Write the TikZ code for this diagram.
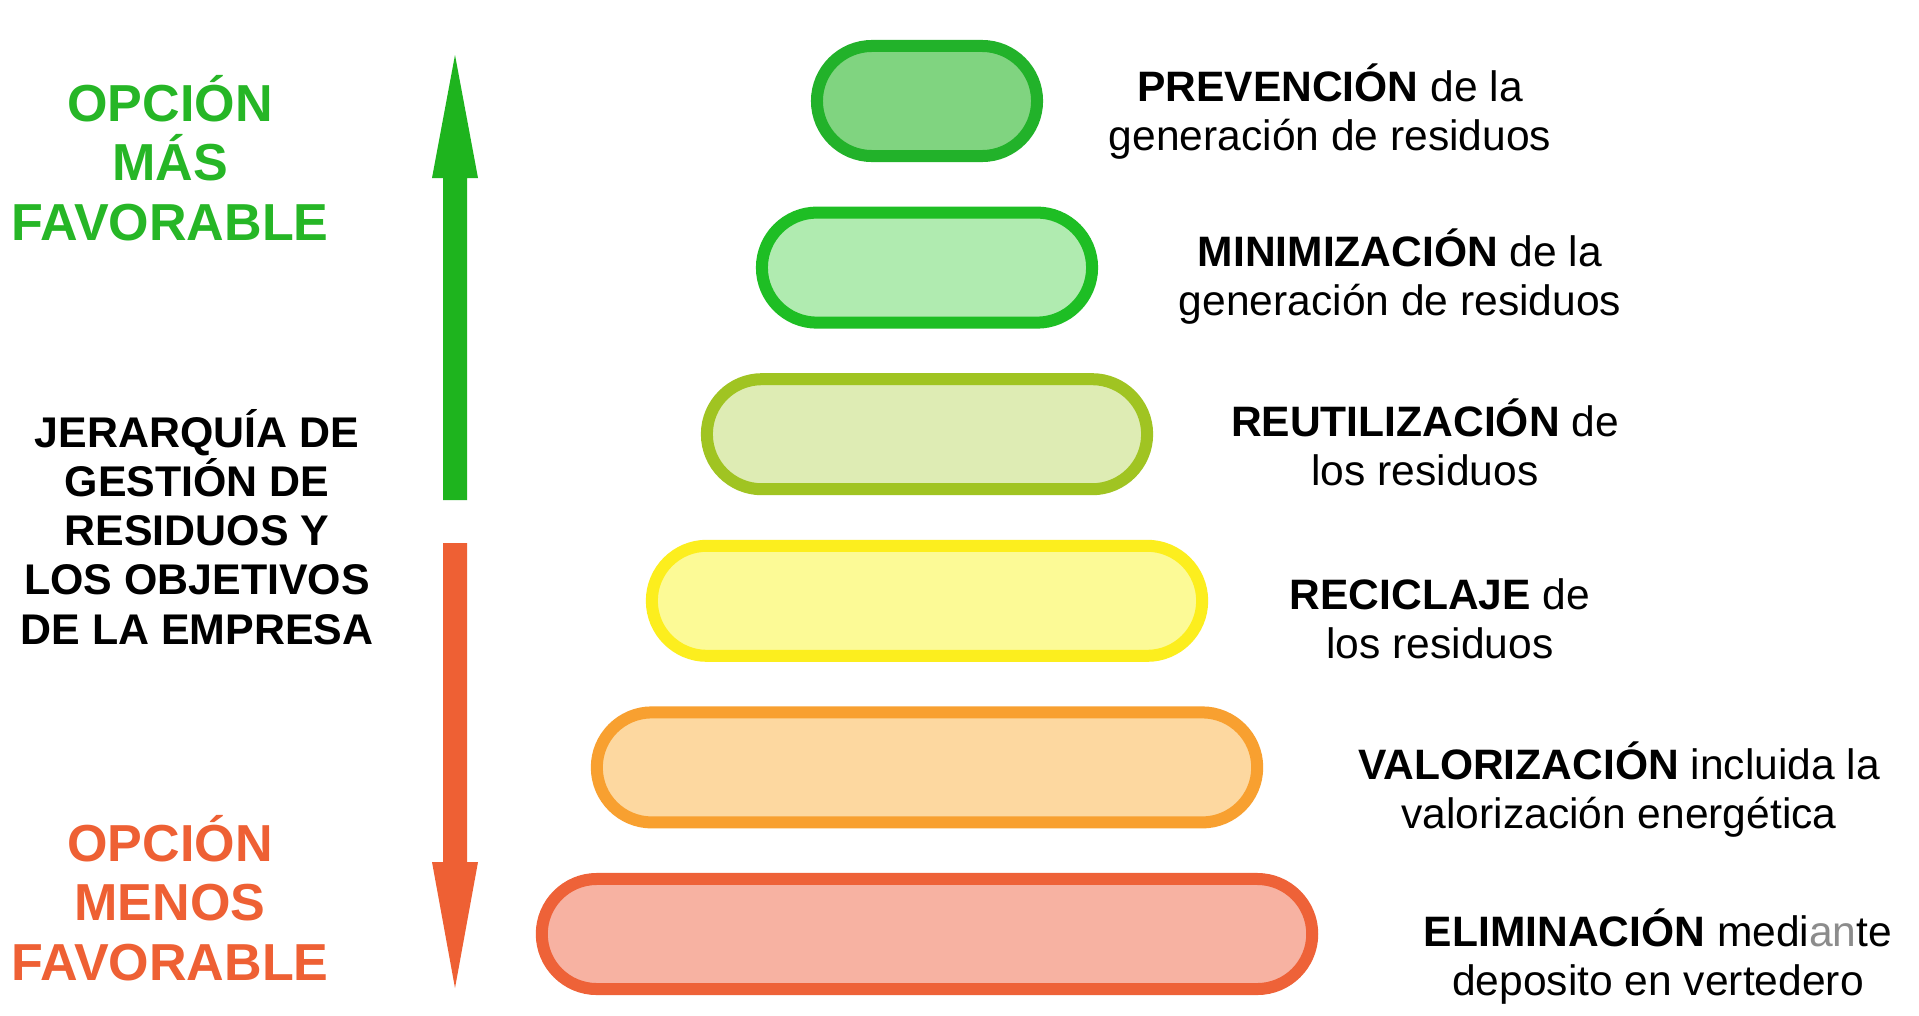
\documentclass[tikz,border=0pt]{standalone}
\usepackage{fontspec}
\setmainfont{Liberation Sans}
\usetikzlibrary{shapes.misc,positioning}

\definecolor{favgreen}{RGB}{38,182,38}
\definecolor{arrowgreen}{RGB}{30,180,30}
\definecolor{lessorange}{RGB}{238,96,52}
\definecolor{lprev}{RGB}{34,178,42}   \definecolor{fprev}{RGB}{128,212,128}
\definecolor{lmini}{RGB}{30,190,36}   \definecolor{fmini}{RGB}{176,235,176}
\definecolor{lreut}{RGB}{160,196,34}  \definecolor{freut}{RGB}{222,236,180}
\definecolor{lreci}{RGB}{252,238,30}  \definecolor{freci}{RGB}{252,250,150}
\definecolor{lvalo}{RGB}{248,160,48}  \definecolor{fvalo}{RGB}{253,216,160}
\definecolor{lelim}{RGB}{238,98,56}   \definecolor{felim}{RGB}{247,178,162}

\tikzset{
  pill/.style={rounded rectangle, line width=0.12cm, minimum height=1.1cm, inner sep=0pt},
  lefttitle/.style={font=\bfseries\fontsize{14.8}{16.9}\selectfont, align=center, anchor=base},
  sidetitle/.style={font=\bfseries\fontsize{12.2}{14}\selectfont, align=center, anchor=base},
  steptext/.style={font=\fontsize{12.1}{13.66}\selectfont, align=center, anchor=base}
}

\begin{document}
\begin{tikzpicture}[x=0.01cm,y=-0.01cm]
    % Canvas
    \fill[white] (0,0) rectangle (1919,1015);
    \useasboundingbox (0,0) rectangle (1919,1015);

    % Left titles (anchor base = last line)
    \node[lefttitle, text=favgreen] (masfav) at (170,240) {OPCIÓN\\MÁS\\FAVORABLE};
    \node[sidetitle] (jerarquia) at (197,644) {JERARQUÍA DE\\GESTIÓN DE\\RESIDUOS Y\\LOS OBJETIVOS\\DE LA EMPRESA};
    \node[lefttitle, text=lessorange] (menosfav) at (170,980) {OPCIÓN\\MENOS\\FAVORABLE};

    % Arrows (tip, head, shaft)
    \coordinate (upto) at (455,55);
    \coordinate (downto) at (455,988);
    \fill[arrowgreen] (upto) -- ++(23,123) -- ++(-11,0) -- ++(0,322) -- ++(-24,0) -- ++(0,-322) -- ++(-11,0) -- cycle;
    \fill[lessorange] (downto) -- ++(23,-126) -- ++(-11,0) -- ++(0,-319) -- ++(-24,0) -- ++(0,319) -- ++(-11,0) -- cycle;

    % Pyramid of pills
    \foreach \name/\w/\y in {prev/2.2/101, mini/3.3/267.6, reut/4.4/434.2, reci/5.5/600.8, valo/6.6/767.4, elim/7.7/934}
        \node[pill, draw=l\name, fill=f\name, minimum width=\w cm] (\name) at (927,\y) {};

    % Step labels
    \node[steptext] (tprev) at (1330,150) {\textbf{PREVENCIÓN} de la\\generación de residuos};
    \node[steptext] (tmini) at (1400,315) {\textbf{MINIMIZACIÓN} de la\\generación de residuos};
    \node[steptext] (treut) at (1425,485) {\textbf{REUTILIZACIÓN} de\\los residuos};
    \node[steptext] (treci) at (1440,658) {\textbf{RECICLAJE} de\\los residuos};
    \node[steptext] (tvalo) at (1619,828) {\textbf{VALORIZACIÓN} incluida la\\valorización energética};
    \node[steptext] (telim) at (1658,995) {\textbf{ELIMINACIÓN} medi{\color{black!45}an}te\\deposito en vertedero};

\end{tikzpicture}
\end{document}
